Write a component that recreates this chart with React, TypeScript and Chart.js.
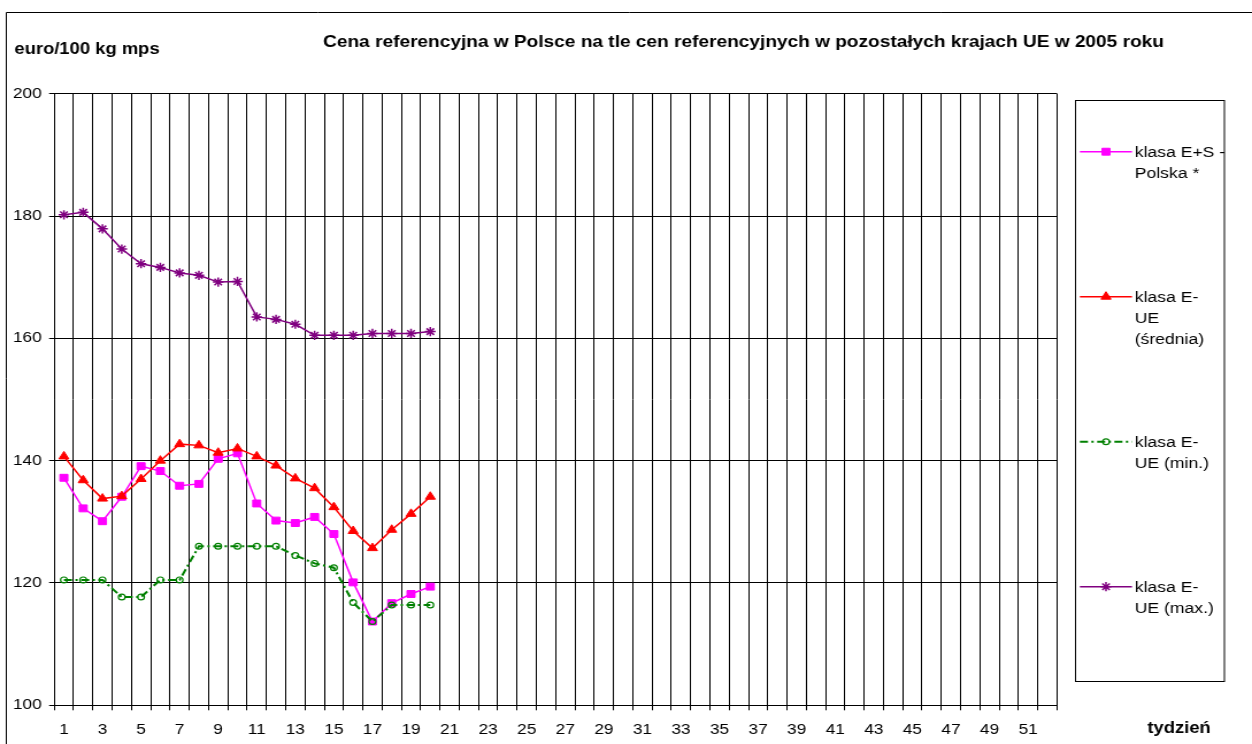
import React, { useEffect, useRef } from 'react';
import { Chart, registerables } from 'chart.js';
import { drawPoint } from 'chart.js/helpers';

Chart.register(...registerables);

// ---- data ----
const weeks = ['1', '2', '3', '4', '5', '6', '7', '8', '9', '10', '11', '12', '13', '14', '15', '16', '17', '18', '19', '20',
  '21', '22', '23', '24', '25', '26', '27', '28', '29', '30', '31', '32', '33', '34', '35', '36', '37', '38', '39', '40',
  '41', '42', '43', '44', '45', '46', '47', '48', '49', '50', '51', '52'];

const polskaES = [137.2, 132.2, 130.1, 134.1, 139.1, 138.3, 135.9, 136.2, 140.3, 141.2, 133.0, 130.2, 129.8, 130.8, 128.0, 120.1, 113.7, 116.7, 118.2, 119.4];
const ueSrednia = [140.7, 136.8, 133.8, 134.2, 137.0, 140.0, 142.7, 142.5, 141.3, 142.0, 140.7, 139.2, 137.1, 135.5, 132.4, 128.5, 125.7, 128.7, 131.3, 134.1];
const ueMin = [120.5, 120.5, 120.5, 117.7, 117.7, 120.5, 120.5, 126.0, 126.0, 126.0, 126.0, 126.0, 124.5, 123.2, 122.5, 116.8, 113.7, 116.4, 116.4, 116.4];
const ueMax = [180.2, 180.6, 177.9, 174.6, 172.2, 171.6, 170.7, 170.3, 169.2, 169.3, 163.5, 163.1, 162.3, 160.5, 160.5, 160.5, 160.8, 160.8, 160.8, 161.1];

const legendLines = [
  ['klasa E+S -', 'Polska *'],
  ['klasa E-', 'UE', '(średnia)'],
  ['klasa E-', 'UE (min.)'],
  ['klasa E-', 'UE (max.)'],
];

const chartTitle = 'Cena referencyjna w Polsce na tle cen referencyjnych w pozostałych krajach UE w 2005 roku';
const yUnit = 'euro/100 kg mps';
const xUnit = 'tydzień';

// ---- layout ----
const OUT_W = 1252;
const OUT_H = 744;
const INNER_W = 1089;
const FONT = "'Liberation Sans', Arial, Helvetica, sans-serif";

const decorPlugin = {
  id: 'decor',
  beforeDraw(chart: any) {
    const ctx = chart.ctx;
    ctx.save();
    ctx.fillStyle = '#fff';
    ctx.fillRect(0, 0, chart.width, chart.height);
    ctx.strokeStyle = '#000';
    ctx.lineWidth = 1;
    ctx.beginPath();
    ctx.moveTo(5.5, chart.height + 2);
    ctx.lineTo(5.5, 12.5);
    ctx.lineTo(chart.width + 2, 12.5);
    ctx.stroke();
    ctx.restore();
  },
  afterDraw(chart: any) {
    const ctx = chart.ctx;
    ctx.save();
    ctx.fillStyle = '#000';
    ctx.textBaseline = 'alphabetic';
    // title
    ctx.font = `bold 16.6px ${FONT}`;
    ctx.textAlign = 'center';
    ctx.fillText(chartTitle, 646.7, 47);
    // y unit
    ctx.textAlign = 'left';
    ctx.font = `bold 16px ${FONT}`;
    ctx.fillText(yUnit, 12.5, 54);
    // x unit
    ctx.fillText(xUnit, 998, 733);

    // legend box
    ctx.strokeStyle = '#000';
    ctx.lineWidth = 1;
    ctx.strokeRect(935.5, 100.5, 129.5, 581);

    const dsets = chart.data.datasets;
    dsets.forEach((ds: any, i: number) => {
      const y = 151.7 + i * 145;
      ctx.save();
      ctx.strokeStyle = ds.borderColor;
      ctx.lineWidth = ds.borderWidth;
      ctx.setLineDash(ds.borderDash || []);
      ctx.beginPath();
      ctx.moveTo(939.3, y);
      ctx.lineTo(984.6, y);
      ctx.stroke();
      ctx.setLineDash([]);
      ctx.fillStyle = ds.pointBackgroundColor;
      ctx.strokeStyle = ds.pointBorderColor;
      ctx.lineWidth = ds.pointBorderWidth;
      drawPoint(ctx, { pointStyle: ds.pointStyle, radius: ds.pointRadius, rotation: 0, borderWidth: ds.pointBorderWidth } as any, 962, y);
      ctx.restore();

      ctx.fillStyle = '#000';
      ctx.font = `15.3px ${FONT}`;
      ctx.textAlign = 'left';
      ctx.textBaseline = 'middle';
      legendLines[i].forEach((line, j) => {
        ctx.fillText(line, 987, y + 1 + j * 20.8);
      });
    });
    ctx.restore();
  },
};

export default function App() {
  const ref = useRef<HTMLCanvasElement>(null);

  useEffect(() => {
    if (!ref.current) return;
    const chart = new Chart(ref.current, {
      type: 'line',
      data: {
        labels: weeks,
        datasets: [
          {
            label: legendLines[0].join(' '),
            data: polskaES,
            borderColor: '#FF00FF',
            backgroundColor: '#FF00FF',
            borderWidth: 1.5,
            pointStyle: 'rect',
            pointRadius: 4.9,
            pointBackgroundColor: '#FF00FF',
            pointBorderColor: '#FF00FF',
            pointBorderWidth: 1,
            tension: 0,
            order: 4,
          },
          {
            label: legendLines[1].join(' '),
            data: ueSrednia,
            borderColor: '#FF0000',
            backgroundColor: '#FF0000',
            borderWidth: 1.5,
            pointStyle: 'triangle',
            pointRadius: 5,
            pointBackgroundColor: '#FF0000',
            pointBorderColor: '#FF0000',
            pointBorderWidth: 1,
            tension: 0,
            order: 3,
          },
          {
            label: legendLines[2].join(' '),
            data: ueMin,
            borderColor: '#008000',
            backgroundColor: '#008000',
            borderWidth: 2,
            borderDash: [7, 3, 2, 3],
            pointStyle: 'circle',
            pointRadius: 2.9,
            pointBackgroundColor: 'rgba(0,0,0,0)',
            pointBorderColor: '#008000',
            pointBorderWidth: 1.2,
            tension: 0,
            order: 2,
          },
          {
            label: legendLines[3].join(' '),
            data: ueMax,
            borderColor: '#800080',
            backgroundColor: '#800080',
            borderWidth: 1.5,
            pointStyle: 'star',
            pointRadius: 4.6,
            pointBackgroundColor: '#800080',
            pointBorderColor: '#800080',
            pointBorderWidth: 1.5,
            tension: 0,
            order: 1,
          },
        ],
      },
      options: {
        animation: false,
        responsive: true,
        maintainAspectRatio: false,
        devicePixelRatio: 1,
        events: [],
        layout: {
          padding: { left: 7.2, right: INNER_W - 919.4, top: 93.7, bottom: 0.7 },
        },
        plugins: {
          legend: { display: false },
          tooltip: { enabled: false },
          title: { display: false },
        },
        scales: {
          x: {
            type: 'category',
            offset: true,
            grid: {
              offset: true,
              color: '#000',
              lineWidth: 1,
              tickLength: 5,
              drawTicks: true,
            },
            border: { display: true, color: '#000', width: 1 },
            ticks: {
              autoSkip: false,
              maxRotation: 0,
              minRotation: 0,
              color: '#000',
              padding: 10.4,
              font: { family: FONT, size: 15 },
              callback: function (this: any, value: any, index: number) {
                return index % 2 === 0 ? this.getLabelForValue(value) : '';
              },
            },
            afterFit: (scale: any) => {
              scale.height = 38;
            },
          },
          y: {
            min: 100,
            max: 200,
            grid: {
              color: '#000',
              lineWidth: 1,
              tickLength: 4.5,
              drawTicks: true,
            },
            border: { display: true, color: '#000', width: 1 },
            ticks: {
              stepSize: 20,
              color: '#000',
              padding: 6.4,
              font: { family: FONT, size: 15 },
            },
            afterFit: (scale: any) => {
              scale.width = 40;
            },
          },
        },
      },
      plugins: [decorPlugin],
    } as any);
    return () => chart.destroy();
  }, []);

  return (
    <div style={{ position: 'fixed', left: 0, top: 0, width: OUT_W, height: OUT_H, overflow: 'hidden', background: '#fff' }}>
      <div style={{ width: INNER_W, height: OUT_H, transform: `scaleX(${OUT_W / INNER_W})`, transformOrigin: '0 0' }}>
        <canvas ref={ref} />
      </div>
    </div>
  );
}
